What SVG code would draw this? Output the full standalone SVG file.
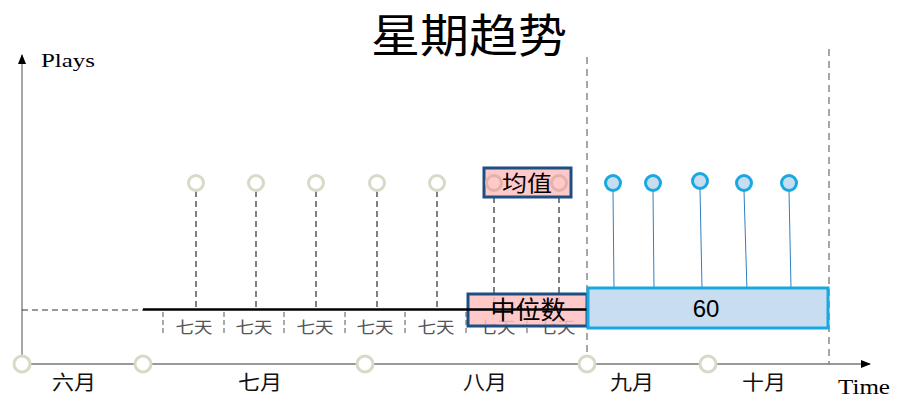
<svg xmlns="http://www.w3.org/2000/svg" width="918" height="409" viewBox="0 0 918 409">
<defs>
<marker id="arr" markerWidth="10" markerHeight="8" refX="9" refY="4" orient="auto" markerUnits="userSpaceOnUse"><path d="M0,0 L10,4 L0,8 z" fill="#000"/></marker>
<style>
.cjk{font-family:"Noto Sans CJK SC","Noto Sans CJK JP",sans-serif;}
.ser{font-family:"Liberation Serif","Times New Roman",serif;}
.gc{fill:#fff;stroke:#d9d9c8;stroke-width:3;}
.bc{fill:#c9ddf0;stroke:#18a8e2;stroke-width:3;}
.vd{stroke:#000;stroke-width:1;stroke-dasharray:6,4;}
.tk{stroke:#555;stroke-width:1;stroke-dasharray:5,3;}
.gd{stroke:#777;stroke-width:1.3;stroke-dasharray:7,5;}
.bl{stroke:#2f7fc0;stroke-width:1;}
.qt{font-size:16px;fill:#555;text-anchor:middle;}
.mo{font-size:20px;fill:#111;text-anchor:middle;}
</style>
</defs>
<rect width="918" height="409" fill="#fff"/>
<text x="469" y="52" class="cjk" font-size="46" text-anchor="middle" textLength="196" lengthAdjust="spacingAndGlyphs" fill="#000">星期趋势</text>
<g id="connectors">
<line x1="22" y1="364" x2="22" y2="55" stroke="#777" stroke-width="1.3" marker-end="url(#arr)"/>
<line x1="22" y1="364" x2="870" y2="364" stroke="#777" stroke-width="1.3" marker-end="url(#arr)"/>
<line x1="587" y1="57" x2="587" y2="364" class="gd"/>
<line x1="829" y1="49" x2="829" y2="364" class="gd"/>
<line x1="22" y1="310" x2="143" y2="310" stroke="#333" stroke-width="1" stroke-dasharray="6,4"/>
<line x1="196" y1="191" x2="196" y2="309" class="vd"/>
<line x1="256" y1="191" x2="256" y2="309" class="vd"/>
<line x1="316" y1="191" x2="316" y2="309" class="vd"/>
<line x1="377" y1="191" x2="377" y2="309" class="vd"/>
<line x1="437" y1="191" x2="437" y2="309" class="vd"/>
<line x1="494" y1="197" x2="494" y2="309" class="vd"/>
<line x1="559" y1="197" x2="559" y2="309" class="vd"/>
<line x1="163" y1="312" x2="163" y2="333" class="tk"/>
<line x1="224" y1="312" x2="224" y2="333" class="tk"/>
<line x1="284" y1="312" x2="284" y2="333" class="tk"/>
<line x1="345" y1="312" x2="345" y2="333" class="tk"/>
<line x1="405" y1="312" x2="405" y2="333" class="tk"/>
<line x1="466" y1="312" x2="466" y2="333" class="tk"/>
<line x1="527" y1="312" x2="527" y2="333" class="tk"/>
<line x1="613" y1="191" x2="614" y2="288" class="bl"/>
<line x1="653" y1="191" x2="654" y2="288" class="bl"/>
<line x1="700" y1="189" x2="702" y2="288" class="bl"/>
<line x1="744" y1="191" x2="747" y2="291" class="bl"/>
<line x1="789" y1="191" x2="791" y2="288" class="bl"/>
</g>
<g id="week-labels" class="cjk">
<text x="194" y="333" class="qt" textLength="37" lengthAdjust="spacingAndGlyphs">七天</text>
<text x="254" y="333" class="qt" textLength="37" lengthAdjust="spacingAndGlyphs">七天</text>
<text x="315" y="333" class="qt" textLength="37" lengthAdjust="spacingAndGlyphs">七天</text>
<text x="375" y="333" class="qt" textLength="37" lengthAdjust="spacingAndGlyphs">七天</text>
<text x="436" y="333" class="qt" textLength="37" lengthAdjust="spacingAndGlyphs">七天</text>
<text x="497" y="333" class="qt" textLength="37" lengthAdjust="spacingAndGlyphs">七天</text>
<text x="557" y="333" class="qt" textLength="37" lengthAdjust="spacingAndGlyphs">七天</text>
</g>
<g id="week-points">
<circle cx="196" cy="183" r="7.5" class="gc"/>
<circle cx="256" cy="183" r="7.5" class="gc"/>
<circle cx="316" cy="183" r="7.5" class="gc"/>
<circle cx="377" cy="183" r="7.5" class="gc"/>
<circle cx="437" cy="183" r="7.5" class="gc"/>
</g>
<g id="mean">
<rect x="484" y="168" width="87" height="29" fill="#ffc9c9" stroke="#1f4e82" stroke-width="3"/>
<circle cx="494" cy="183" r="7.5" fill="none" stroke="#e3b3ab" stroke-width="3"/>
<circle cx="559" cy="183" r="7.5" fill="none" stroke="#e3b3ab" stroke-width="3"/>
<text x="527" y="191" class="cjk" font-size="22" text-anchor="middle" textLength="50" lengthAdjust="spacingAndGlyphs" fill="#000">均值</text>
</g>
<g id="median">
<rect x="468" y="294" width="119" height="32" fill="#ffc0c0" fill-opacity="0.85" stroke="#1f4e82" stroke-width="3"/>
<text x="528" y="319" class="cjk" font-size="25" text-anchor="middle" textLength="75" lengthAdjust="spacingAndGlyphs" fill="#000">中位数</text>
</g>
<g id="baseline">
<line x1="143" y1="309.5" x2="587" y2="309.5" stroke="#000" stroke-width="2.5"/>
</g>
<g id="forecast">
<rect x="588" y="288" width="240" height="40" fill="#c9ddf0" stroke="#18a8e2" stroke-width="3"/>
<text x="706" y="317" font-family="Liberation Sans, Arial, sans-serif" font-size="24" text-anchor="middle" fill="#000">60</text>
</g>
<g id="forecast-points">
<circle cx="613" cy="183" r="7.5" class="bc"/>
<circle cx="653" cy="183" r="7.5" class="bc"/>
<circle cx="700" cy="181" r="7.5" class="bc"/>
<circle cx="744" cy="183" r="7.5" class="bc"/>
<circle cx="789" cy="183" r="7.5" class="bc"/>
</g>
<g id="months">
<circle cx="22" cy="364" r="8" class="gc"/>
<circle cx="143" cy="364" r="8" class="gc"/>
<circle cx="365" cy="364" r="8" class="gc"/>
<circle cx="587" cy="364" r="8" class="gc"/>
<circle cx="708" cy="364" r="8" class="gc"/>
<text x="74" y="390" class="cjk mo" textLength="44" lengthAdjust="spacingAndGlyphs">六月</text>
<text x="260" y="390" class="cjk mo" textLength="44" lengthAdjust="spacingAndGlyphs">七月</text>
<text x="485" y="390" class="cjk mo" textLength="44" lengthAdjust="spacingAndGlyphs">八月</text>
<text x="632" y="390" class="cjk mo" textLength="44" lengthAdjust="spacingAndGlyphs">九月</text>
<text x="764" y="390" class="cjk mo" textLength="44" lengthAdjust="spacingAndGlyphs">十月</text>
</g>
<text x="41" y="67" class="ser" font-size="19" textLength="54" lengthAdjust="spacingAndGlyphs" fill="#000">Plays</text>
<text x="838" y="394" class="ser" font-size="20" textLength="52" lengthAdjust="spacingAndGlyphs" fill="#000">Time</text>
</svg>
